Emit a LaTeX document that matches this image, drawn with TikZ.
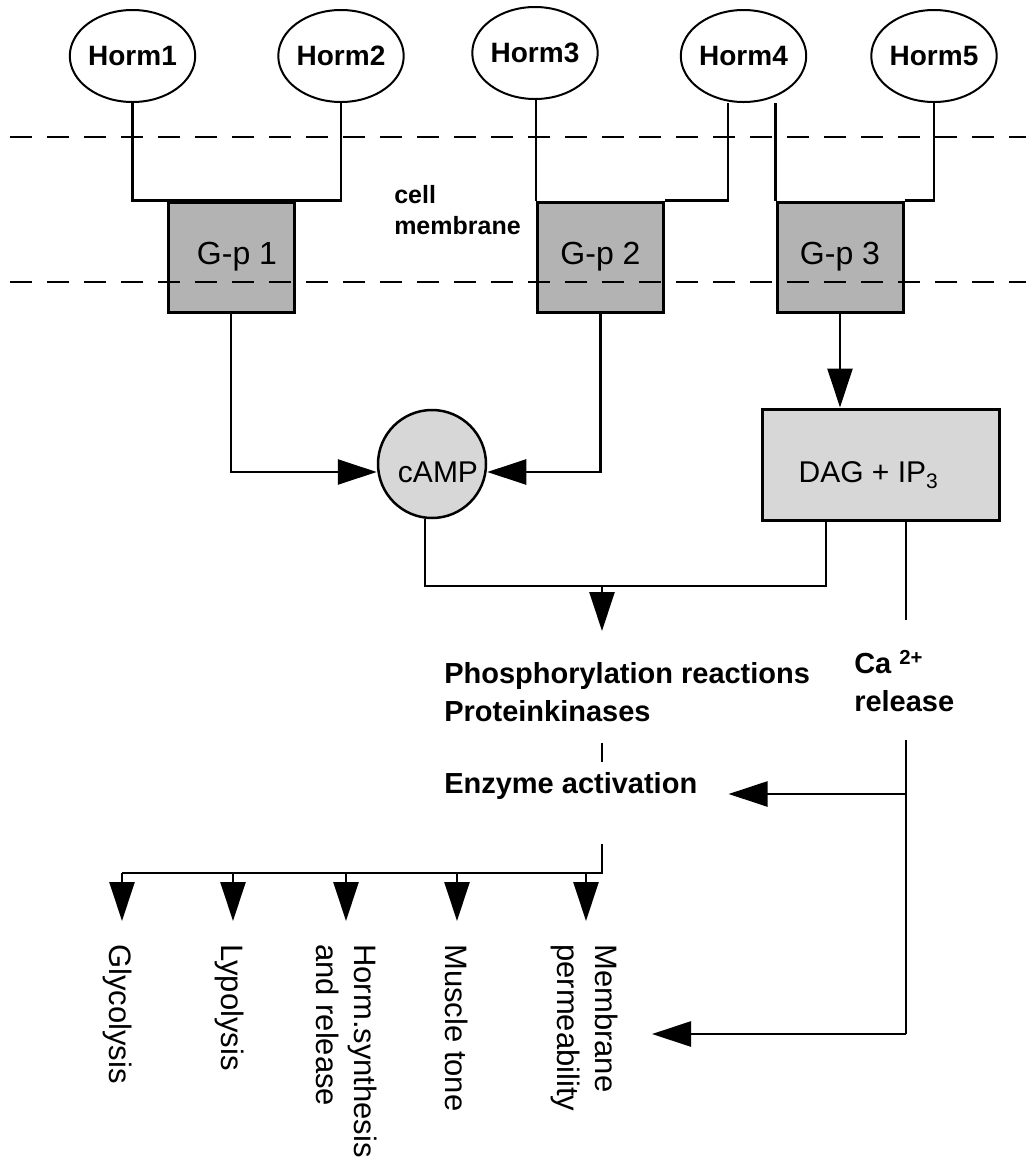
\documentclass[tikz,border=0pt]{standalone}
\usepackage{fontspec}
\setmainfont{Liberation Sans}
\usetikzlibrary{arrows.meta,shapes.geometric,calc}
\definecolor{gpfill}{HTML}{B3B3B3}
\definecolor{msgfill}{HTML}{D7D7D7}
\begin{document}
\begin{tikzpicture}[x=1pt,y=-1pt,line width=2.5pt,
  horm/.style={ellipse,draw,line width=2pt,minimum width=125pt,minimum height=92pt,inner sep=0pt,
    font=\bfseries\fontsize{28}{32}\selectfont},
  gbox/.style={rectangle,draw,fill=gpfill,line width=3pt,minimum width=126pt,minimum height=110pt,
    inner sep=0pt,font=\fontsize{32}{36}\selectfont},
  messenger/.style={draw,fill=msgfill,line width=2.5pt,inner sep=0pt,font=\fontsize{30}{36}\selectfont},
  lbl/.style={inner sep=0pt,align=left,font=\bfseries\fontsize{29}{38}\selectfont},
  rot/.style={inner sep=0pt,rotate=-90,anchor=north west,align=left,font=\fontsize{31}{38}\selectfont},
  arr/.style={-{Triangle[length=39pt,width=25pt]}},
  membrane/.style={line width=2.5pt,dash pattern=on 22pt off 15pt}]
\useasboundingbox (0,0) rectangle (1026,1160);

% hormones
\node[horm] (h1) at (132.5,56) {Horm1};
\node[horm] (h2) at (341,56) {Horm2};
\node[horm] (h3) at (535,53) {Horm3};
\node[horm] (h4) at (743.5,56) {Horm4};
\node[horm] (h5) at (934,56) {Horm5};

% G-proteins
\node[gbox] (g1) at (231,257) {\hspace*{12pt}G-p 1};
\node[gbox] (g2) at (600.5,257) {G-p 2};
\node[gbox] (g3) at (840,257) {G-p 3};

% second messengers
\node[messenger,circle,minimum size=108pt,text height=36pt,text depth=0pt] (camp) at (432,464) {\hspace*{12pt}cAMP};
\node[messenger,rectangle,line width=3pt,minimum width=237pt,minimum height=111pt,
  text height=35pt,text depth=0pt] (dag) at (880.5,464.5) {DAG + IP\textsubscript{3}\hspace*{24pt}};

% labels
\node[inner sep=0pt,anchor=north west,align=left,font=\bfseries\fontsize{25}{31}\selectfont] (cellm) at (393,184) {cell\\membrane};
\node[lbl,anchor=north west] (phos) at (443,661) {Phosphorylation reactions\\Proteinkinases};
\node[lbl,anchor=base west] (enz) at (443,793) {Enzyme activation};
\node[lbl,anchor=north west] (ca) at (853,649) {Ca \textsuperscript{2+}\\release};

% effects
\node[rot] (glyc) at (133,943) {Glycolysis};
\node[rot] (lypo) at (245,943) {Lypolysis};
\node[rot] (hsyn) at (378,943) {Horm.synthesis\\and release};
\node[rot] (musc) at (469,943) {Muscle tone};
\node[rot] (memb) at (619,943) {Membrane\\permeability};

% hormone receptors feeding the G-proteins
\draw (h1.south) -- (h1.south |- g1.north) -- (h2.south |- g1.north) -- (h2.south);
\draw (g2.north west) -- (g2.north west |- h3.south);
\draw (g2.north east) -| ([xshift=-15.5pt]h4.south);
\draw (g3.north west) -- (g3.north west |- h4.south);
\draw (g3.north east) -| (h5.south);

% G-proteins to second messengers
\draw[arr] (g1.south) |- ([yshift=-8pt]camp.west);
\draw[arr] (g2.south) |- ([yshift=-8pt]camp.east);
\draw[arr] (g3.south) -- (g3.south |- dag.north);

% cAMP and DAG converge on phosphorylation
\coordinate (merge) at (602,586);
\coordinate (dagL) at (826,586);
\draw ([xshift=-7pt]camp.south) |- (dagL) -- (dagL |- dag.south);
\draw[arr,shorten >=30pt] (merge) -- (merge |- phos.north);
\draw[shorten <=20pt,shorten >=9pt] (merge |- phos.south) -- (merge |- enz.north);

% enzyme activation branches to the effects
\coordinate (split) at (602,873);
\coordinate (b1) at (122,873);
\coordinate (b2) at (233,873);
\coordinate (b3) at (346,873);
\coordinate (b4) at (457,873);
\coordinate (b5) at (586,873);
\draw[shorten <=44pt] (merge |- enz.south) -- (split) -- (b1);
\draw[arr,shorten >=22pt] (b1) -- (b1 |- glyc.west);
\draw[arr,shorten >=22pt] (b2) -- (b2 |- lypo.west);
\draw[arr,shorten >=22pt] (b3) -- (b3 |- hsyn.west);
\draw[arr,shorten >=22pt] (b4) -- (b4 |- musc.west);
\draw[arr,shorten >=22pt] (b5) -- (b5 |- memb.west);

% calcium release pathway
\coordinate (caA) at (906,620);
\coordinate (caB) at (906,740);
\coordinate (caE) at (906,794);
\coordinate (caC) at (906,1034);
\draw (dag.south -| caA) -- (caA);
\draw (caB) -- (caC);
\draw[arr,shorten >=30pt] (caE) -- (caE -| enz.east);
\draw[arr,shorten >=33pt] (caC) -- (caC -| memb.north);

% cell membrane boundaries
\draw[membrane] (10,137) -- (1026,137);
\draw[membrane] (10,282) -- (1026,282);
\end{tikzpicture}
\end{document}
